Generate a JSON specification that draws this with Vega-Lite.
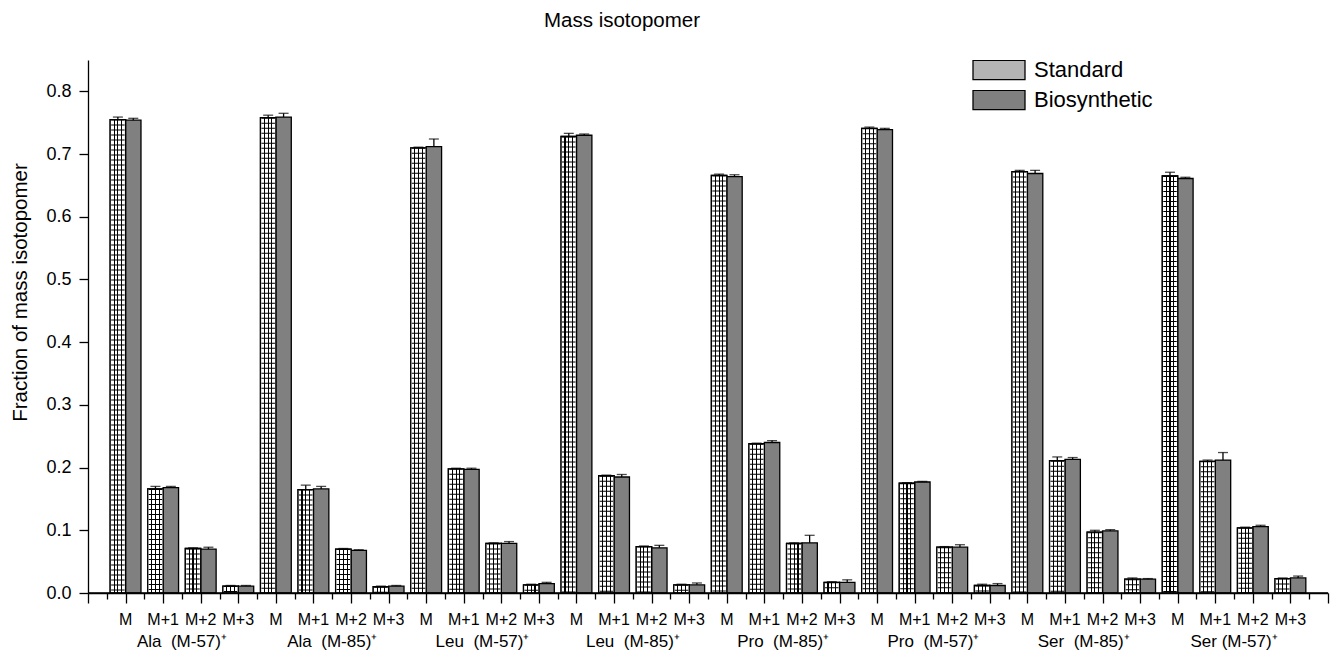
{
  "$schema": "https://vega.github.io/schema/vega-lite/v6.json",
  "width": 1240,
  "height": 533,
  "autosize": {"type": "none"},
  "padding": {"left": 88, "top": 60, "right": 13, "bottom": 66},
  "config": {
    "font": "Liberation Sans",
    "view": {"stroke": null},
    "axis": {"domainColor": "black", "tickColor": "black", "labelColor": "black", "titleColor": "black", "domainWidth": 1.3, "tickWidth": 1.3, "grid": false}
  },
  "title": {"text": "Mass isotopomer", "fontSize": 20.5, "fontWeight": "normal", "anchor": "middle", "frame": "group", "dx": -86, "dy": -2, "offset": 11, "baseline": "alphabetic", "color": "black"},
  "datasets": {
    "bars": [
      {"cat": "g1|M", "series": "Standard", "value": 0.755, "upper": 0.759},
      {"cat": "g1|M", "series": "Biosynthetic", "value": 0.754, "upper": 0.757},
      {"cat": "g1|M+1", "series": "Standard", "value": 0.166, "upper": 0.170},
      {"cat": "g1|M+1", "series": "Biosynthetic", "value": 0.168, "upper": 0.170},
      {"cat": "g1|M+2", "series": "Standard", "value": 0.071, "upper": 0.072},
      {"cat": "g1|M+2", "series": "Biosynthetic", "value": 0.070, "upper": 0.073},
      {"cat": "g1|M+3", "series": "Standard", "value": 0.011, "upper": 0.012},
      {"cat": "g1|M+3", "series": "Biosynthetic", "value": 0.011, "upper": 0.012},
      {"cat": "g2|M", "series": "Standard", "value": 0.758, "upper": 0.762},
      {"cat": "g2|M", "series": "Biosynthetic", "value": 0.759, "upper": 0.765},
      {"cat": "g2|M+1", "series": "Standard", "value": 0.165, "upper": 0.172},
      {"cat": "g2|M+1", "series": "Biosynthetic", "value": 0.166, "upper": 0.170},
      {"cat": "g2|M+2", "series": "Standard", "value": 0.070, "upper": 0.071},
      {"cat": "g2|M+2", "series": "Biosynthetic", "value": 0.068, "upper": 0.069},
      {"cat": "g2|M+3", "series": "Standard", "value": 0.010, "upper": 0.011},
      {"cat": "g2|M+3", "series": "Biosynthetic", "value": 0.011, "upper": 0.012},
      {"cat": "g3|M", "series": "Standard", "value": 0.710, "upper": 0.711},
      {"cat": "g3|M", "series": "Biosynthetic", "value": 0.712, "upper": 0.724},
      {"cat": "g3|M+1", "series": "Standard", "value": 0.198, "upper": 0.199},
      {"cat": "g3|M+1", "series": "Biosynthetic", "value": 0.197, "upper": 0.199},
      {"cat": "g3|M+2", "series": "Standard", "value": 0.079, "upper": 0.080},
      {"cat": "g3|M+2", "series": "Biosynthetic", "value": 0.079, "upper": 0.082},
      {"cat": "g3|M+3", "series": "Standard", "value": 0.013, "upper": 0.014},
      {"cat": "g3|M+3", "series": "Biosynthetic", "value": 0.015, "upper": 0.017},
      {"cat": "g4|M", "series": "Standard", "value": 0.728, "upper": 0.733},
      {"cat": "g4|M", "series": "Biosynthetic", "value": 0.730, "upper": 0.732},
      {"cat": "g4|M+1", "series": "Standard", "value": 0.187, "upper": 0.188},
      {"cat": "g4|M+1", "series": "Biosynthetic", "value": 0.185, "upper": 0.189},
      {"cat": "g4|M+2", "series": "Standard", "value": 0.074, "upper": 0.075},
      {"cat": "g4|M+2", "series": "Biosynthetic", "value": 0.072, "upper": 0.076},
      {"cat": "g4|M+3", "series": "Standard", "value": 0.013, "upper": 0.014},
      {"cat": "g4|M+3", "series": "Biosynthetic", "value": 0.013, "upper": 0.016},
      {"cat": "g5|M", "series": "Standard", "value": 0.666, "upper": 0.668},
      {"cat": "g5|M", "series": "Biosynthetic", "value": 0.664, "upper": 0.667},
      {"cat": "g5|M+1", "series": "Standard", "value": 0.238, "upper": 0.239},
      {"cat": "g5|M+1", "series": "Biosynthetic", "value": 0.240, "upper": 0.243},
      {"cat": "g5|M+2", "series": "Standard", "value": 0.079, "upper": 0.080},
      {"cat": "g5|M+2", "series": "Biosynthetic", "value": 0.080, "upper": 0.092},
      {"cat": "g5|M+3", "series": "Standard", "value": 0.017, "upper": 0.018},
      {"cat": "g5|M+3", "series": "Biosynthetic", "value": 0.017, "upper": 0.021},
      {"cat": "g6|M", "series": "Standard", "value": 0.741, "upper": 0.743},
      {"cat": "g6|M", "series": "Biosynthetic", "value": 0.739, "upper": 0.741},
      {"cat": "g6|M+1", "series": "Standard", "value": 0.175, "upper": 0.176},
      {"cat": "g6|M+1", "series": "Biosynthetic", "value": 0.177, "upper": 0.178},
      {"cat": "g6|M+2", "series": "Standard", "value": 0.073, "upper": 0.074},
      {"cat": "g6|M+2", "series": "Biosynthetic", "value": 0.073, "upper": 0.077},
      {"cat": "g6|M+3", "series": "Standard", "value": 0.012, "upper": 0.014},
      {"cat": "g6|M+3", "series": "Biosynthetic", "value": 0.012, "upper": 0.015},
      {"cat": "g7|M", "series": "Standard", "value": 0.672, "upper": 0.674},
      {"cat": "g7|M", "series": "Biosynthetic", "value": 0.669, "upper": 0.674},
      {"cat": "g7|M+1", "series": "Standard", "value": 0.211, "upper": 0.217},
      {"cat": "g7|M+1", "series": "Biosynthetic", "value": 0.213, "upper": 0.216},
      {"cat": "g7|M+2", "series": "Standard", "value": 0.097, "upper": 0.100},
      {"cat": "g7|M+2", "series": "Biosynthetic", "value": 0.099, "upper": 0.101},
      {"cat": "g7|M+3", "series": "Standard", "value": 0.022, "upper": 0.024},
      {"cat": "g7|M+3", "series": "Biosynthetic", "value": 0.022, "upper": 0.023},
      {"cat": "g8|M", "series": "Standard", "value": 0.665, "upper": 0.671},
      {"cat": "g8|M", "series": "Biosynthetic", "value": 0.661, "upper": 0.663},
      {"cat": "g8|M+1", "series": "Standard", "value": 0.210, "upper": 0.212},
      {"cat": "g8|M+1", "series": "Biosynthetic", "value": 0.212, "upper": 0.224},
      {"cat": "g8|M+2", "series": "Standard", "value": 0.104, "upper": 0.105},
      {"cat": "g8|M+2", "series": "Biosynthetic", "value": 0.106, "upper": 0.108},
      {"cat": "g8|M+3", "series": "Standard", "value": 0.023, "upper": 0.024},
      {"cat": "g8|M+3", "series": "Biosynthetic", "value": 0.024, "upper": 0.027}
    ],
    "groups": [
      {"cat": "g1|M+1", "label": "Ala\u00a0 (M-57)\u207a"},
      {"cat": "g2|M+1", "label": "Ala\u00a0 (M-85)\u207a"},
      {"cat": "g3|M+1", "label": "Leu\u00a0 (M-57)\u207a"},
      {"cat": "g4|M+1", "label": "Leu\u00a0 (M-85)\u207a"},
      {"cat": "g5|M+1", "label": "Pro\u00a0 (M-85)\u207a"},
      {"cat": "g6|M+1", "label": "Pro\u00a0 (M-57)\u207a"},
      {"cat": "g7|M+1", "label": "Ser\u00a0 (M-85)\u207a"},
      {"cat": "g8|M+1", "label": "Ser (M-57)\u207a"}
    ]
  },
  "resolve": {"scale": {"x": "independent"}},
  "layer": [
    {
      "layer": [
        {
          "data": {"name": "bars"},
          "mark": {"type": "bar", "stroke": "black", "strokeWidth": 1.3},
          "encoding": {
            "x": {"field": "cat", "type": "nominal", "scale": {"paddingInner": 0.18, "paddingOuter": 0.59},
              "axis": {"orient": "bottom", "title": null, "ticks": false, "tickSize": 0, "domain": false, "labelAngle": 0, "labelFontSize": 16, "labelPadding": 18, "labelOverlap": false, "labelBound": false, "labelExpr": "split(datum.value, '|')[1]"}},
            "xOffset": {"field": "series", "type": "nominal", "scale": {"domain": ["Standard", "Biosynthetic"], "paddingInner": 0, "paddingOuter": 0}},
            "y": {"field": "value", "type": "quantitative", "title": "Fraction of mass isotopomer",
              "scale": {"domain": [0, 0.85], "nice": false, "zero": true},
              "axis": {"values": [0, 0.05, 0.1, 0.15, 0.2, 0.25, 0.3, 0.35, 0.4, 0.45, 0.5, 0.55, 0.6, 0.65, 0.7, 0.75, 0.8, 0.85],
                "labelExpr": "round(datum.value*100) % 10 == 0 ? format(datum.value, '.1f') : ''",
                "tickSize": {"condition": {"test": "round(datum.value*100) % 10 == 0", "value": 9}, "value": 5},
                "labelFontSize": 18, "labelPadding": 8, "labelOverlap": false, "labelBound": false, "labelFlush": false,
                "titleFontSize": 20.5, "titleFontWeight": "normal", "titleAngle": -90, "titleX": -62, "titleY": 232, "titleAlign": "center", "titleBaseline": "alphabetic"}},
            "fill": {"field": "series", "type": "nominal", "title": null,
              "scale": {"domain": ["Standard", "Biosynthetic"], "range": ["#b4b4b4", "#808080"]},
              "legend": {"orient": "none", "legendX": 884, "legendY": 0, "direction": "vertical", "padding": 0,
                "symbolType": "M-1,-0.37H1V0.37H-1Z", "symbolSize": 2704, "symbolStrokeColor": "black", "symbolStrokeWidth": 1.3, "symbolOpacity": 1,
                "clipHeight": 20, "labelFontSize": 22, "labelOffset": 8, "labelColor": "black", "rowPadding": 8}}
          }
        },
        {
          "data": {"name": "bars"},
          "transform": [{"filter": "datum.series == 'Standard'"}],
          "mark": {"type": "bar", "stroke": "black", "strokeWidth": 1.3,
            "fill": {"gradient": "linear", "x1": 0, "y1": 0, "x2": 1, "y2": 0, "stops": [
              {"offset": 0, "color": "#ffffff"}, {"offset": 0.22, "color": "#ffffff"}, {"offset": 0.22, "color": "#000000"}, {"offset": 0.29, "color": "#000000"}, {"offset": 0.29, "color": "#ffffff"},
              {"offset": 0.465, "color": "#ffffff"}, {"offset": 0.465, "color": "#000000"}, {"offset": 0.535, "color": "#000000"}, {"offset": 0.535, "color": "#ffffff"},
              {"offset": 0.71, "color": "#ffffff"}, {"offset": 0.71, "color": "#000000"}, {"offset": 0.78, "color": "#000000"}, {"offset": 0.78, "color": "#ffffff"}, {"offset": 1, "color": "#ffffff"}]}},
          "encoding": {
            "x": {"field": "cat", "type": "nominal"},
            "xOffset": {"field": "series", "type": "nominal"},
            "y": {"field": "value", "type": "quantitative", "title": "Fraction of mass isotopomer"}
          }
        },
        {
          "data": {"name": "bars"},
          "transform": [{"filter": "datum.series == 'Standard'"}],
          "mark": {"type": "rule", "color": "black", "strokeWidth": 13.5, "strokeDash": [1, 4], "strokeCap": "butt"},
          "encoding": {
            "x": {"field": "cat", "type": "nominal"},
            "xOffset": {"field": "series", "type": "nominal"},
            "y": {"field": "value", "type": "quantitative", "title": "Fraction of mass isotopomer"},
            "y2": {"datum": 0}
          }
        },
        {
          "data": {"name": "bars"},
          "mark": {"type": "rule", "color": "black", "strokeWidth": 1.3},
          "encoding": {
            "x": {"field": "cat", "type": "nominal"},
            "xOffset": {"field": "series", "type": "nominal"},
            "y": {"field": "value", "type": "quantitative", "title": "Fraction of mass isotopomer"},
            "y2": {"field": "upper"}
          }
        },
        {
          "data": {"name": "bars"},
          "mark": {"type": "tick", "color": "black", "size": 10, "thickness": 1.3, "orient": "horizontal"},
          "encoding": {
            "x": {"field": "cat", "type": "nominal"},
            "xOffset": {"field": "series", "type": "nominal"},
            "y": {"field": "upper", "type": "quantitative", "title": "Fraction of mass isotopomer"}
          }
        },
        {
          "data": {"name": "groups"},
          "mark": {"type": "text", "fontSize": 17, "align": "center", "baseline": "alphabetic", "dx": 18.8, "dy": 54, "color": "black"},
          "encoding": {
            "x": {"field": "cat", "type": "nominal"},
            "y": {"datum": 0, "type": "quantitative"},
            "text": {"field": "label"}
          }
        }
      ]
    },
    {
      "data": {"values": [{}]},
      "mark": {"type": "rule", "color": "black", "strokeWidth": 1.3},
      "encoding": {
        "x": {"datum": 0, "type": "quantitative", "scale": {"domain": [0, 33], "nice": false, "zero": false},
          "axis": {"orient": "bottom", "title": null, "labels": false, "domain": true,
            "values": [0, 0.5, 1, 1.5, 2, 2.5, 3, 3.5, 4, 4.5, 5, 5.5, 6, 6.5, 7, 7.5, 8, 8.5, 9, 9.5, 10, 10.5, 11, 11.5, 12, 12.5, 13, 13.5, 14, 14.5, 15, 15.5, 16, 16.5, 17, 17.5, 18, 18.5, 19, 19.5, 20, 20.5, 21, 21.5, 22, 22.5, 23, 23.5, 24, 24.5, 25, 25.5, 26, 26.5, 27, 27.5, 28, 28.5, 29, 29.5, 30, 30.5, 31, 31.5, 32, 32.5, 33],
            "tickSize": {"condition": {"test": "datum.value % 1 == 0", "value": 10}, "value": 6}}},
        "x2": {"datum": 33},
        "y": {"datum": 0, "type": "quantitative"}
      }
    }
  ]
}
